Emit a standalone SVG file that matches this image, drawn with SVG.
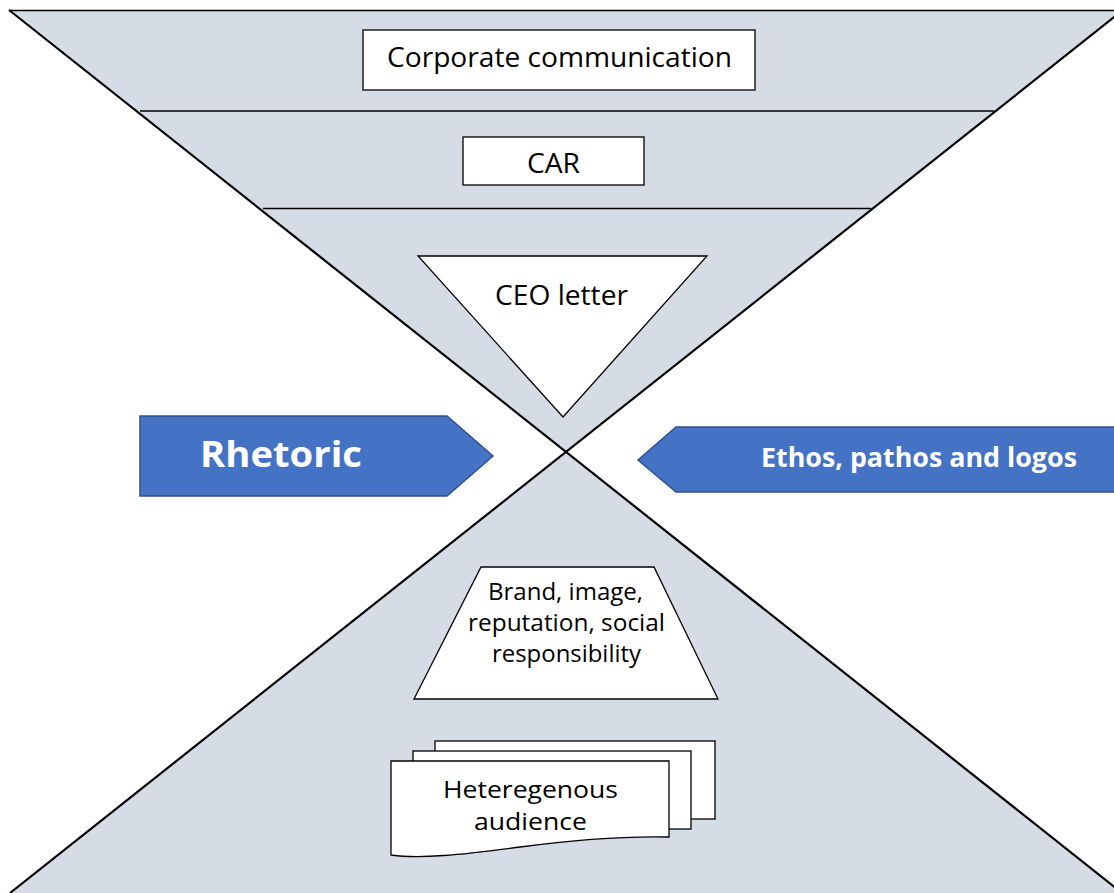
<svg xmlns="http://www.w3.org/2000/svg" width="1114" height="893" viewBox="0 0 1114 893">
<style>
.band{fill:#D6DCE5;stroke:none}
.diag{stroke:#000;stroke-width:2.2;fill:none}
.hl{stroke:#000;stroke-width:1.3}
.box{fill:#fff;stroke:#000;stroke-width:1.3}
.t{font-family:"Open Sans","Liberation Sans",sans-serif;fill:#000;text-anchor:middle}
.arrow{fill:#4472C4;stroke:#2F528F;stroke-width:1.5}
.wt{font-family:"Open Sans","Liberation Sans",sans-serif;fill:#fff;font-weight:bold}
</style>
<rect width="1114" height="893" fill="#fff"/>
<g id="funnel">
<polygon class="band" points="9,10 1123,10 566,452"/>
<polygon class="band" points="566,452 10,893 1122,893"/>
<line class="hl" x1="9" y1="10.5" x2="1114" y2="10.5"/>
<line class="hl" x1="140" y1="111" x2="994" y2="111"/>
<line class="hl" x1="263" y1="208.5" x2="871" y2="208.5" stroke="#333"/>
</g>
<g id="connectors">
<line class="diag" x1="9" y1="10" x2="1122" y2="893"/>
<line class="diag" x1="1123" y1="10" x2="10" y2="893"/>
</g>
<g id="corporate">
<rect class="box" x="363" y="30" width="392" height="60"/>
<text class="t" x="559.5" y="67" font-size="27" textLength="345" lengthAdjust="spacingAndGlyphs">Corporate communication</text>
</g>
<g id="car">
<rect class="box" x="463" y="137" width="181" height="48"/>
<text class="t" x="553.5" y="173" font-size="27.5" textLength="53" lengthAdjust="spacingAndGlyphs">CAR</text>
</g>
<g id="ceo">
<polygon class="box" points="418,256 707,256 563,417"/>
<text class="t" x="561.5" y="305" font-size="27.5" textLength="133" lengthAdjust="spacingAndGlyphs">CEO letter</text>
</g>
<g id="rhetoric">
<polygon class="arrow" points="140,416 447,416 493,456 447,496 140,496"/>
<text class="wt" x="200" y="467" font-size="35" textLength="162" lengthAdjust="spacingAndGlyphs">Rhetoric</text>
</g>
<g id="ethos">
<polygon class="arrow" points="1120,427 676,427 638,460 676,492 1120,492"/>
<text class="wt" x="761" y="467" font-size="26" textLength="316" lengthAdjust="spacingAndGlyphs">Ethos, pathos and logos</text>
</g>
<g id="brand">
<polygon class="box" points="481,567 654,567 718,699 414,699"/>
<text class="t" font-size="23"><tspan x="565.5" y="600" textLength="155" lengthAdjust="spacingAndGlyphs">Brand, image,</tspan><tspan x="566.5" y="631" textLength="197" lengthAdjust="spacingAndGlyphs">reputation, social</tspan><tspan x="566.5" y="662" textLength="149" lengthAdjust="spacingAndGlyphs">responsibility</tspan></text>
</g>
<g id="audience">
<rect class="box" x="435" y="741" width="280" height="78"/>
<rect class="box" x="413" y="751" width="278" height="78"/>
<path class="box" d="M391,761 H669 V837 C630,836 580,839 520,847 C460,855 420,859 391,855 Z"/>
<text class="t" font-size="24"><tspan x="530.5" y="798" textLength="175" lengthAdjust="spacingAndGlyphs">Heteregenous</tspan><tspan x="530.5" y="830" textLength="113" lengthAdjust="spacingAndGlyphs">audience</tspan></text>
</g>
</svg>
